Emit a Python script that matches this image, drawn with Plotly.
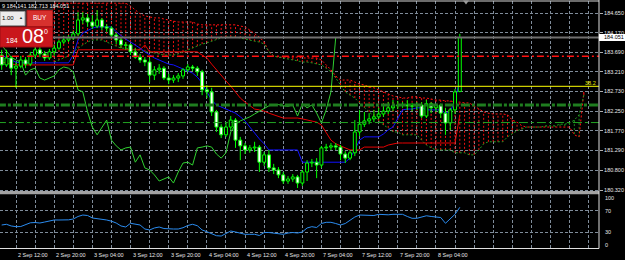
import plotly.graph_objects as go

# ---------------- data (H1 bars, index 0 = 2 Sep 12:00) ----------------
bars = list(range(-3, 94))
opens = [183.62, 183.38, 183.55, 183.30, 183.35, 183.50, 183.40, 183.62, 183.75, 183.65,
         183.55, 183.70, 183.79, 183.94, 183.99, 184.04, 184.14, 184.48, 184.53, 184.43,
         184.33, 184.48, 184.31, 184.28, 184.11, 183.99, 183.87, 183.87, 183.70, 183.57,
         183.50, 183.45, 183.13, 183.26, 183.30, 183.06, 183.01, 183.06, 183.11, 183.26,
         183.33, 183.30, 183.21, 182.77, 182.72, 182.23, 181.86, 181.67, 181.86, 182.03,
         181.54, 181.40, 181.30, 181.35, 181.37, 181.00, 181.18, 180.86, 180.81, 180.69,
         180.54, 180.59, 180.64, 180.49, 180.76, 180.98, 181.00, 180.93, 181.35, 181.37,
         181.40, 181.37, 181.20, 181.10, 181.23, 181.74, 181.93, 182.01, 182.06, 182.11,
         182.18, 182.25, 182.33, 182.38, 182.40, 182.40, 182.38, 182.38, 182.40, 182.13,
         182.43, 182.33, 182.40, 182.20, 181.96, 182.28, 182.729]
highs = [183.75, 183.75, 183.60, 183.45, 183.60, 183.57, 183.70, 183.84, 183.82, 183.72,
         183.77, 183.87, 183.99, 184.09, 184.11, 184.21, 184.67, 184.67, 184.63, 184.60,
         184.72, 184.53, 184.38, 184.33, 184.16, 184.04, 183.94, 183.89, 183.79, 183.65,
         183.57, 183.55, 183.35, 183.40, 183.35, 183.16, 183.13, 183.18, 183.30, 183.40,
         183.38, 183.35, 183.26, 182.89, 182.82, 182.28, 181.93, 181.98, 182.13, 182.08,
         181.62, 181.47, 181.42, 181.50, 181.42, 181.25, 181.30, 180.96, 180.88, 180.76,
         180.66, 180.71, 180.69, 180.81, 181.05, 181.08, 181.10, 181.40, 181.45, 181.47,
         181.47, 181.42, 181.27, 181.30, 182.03, 182.28, 182.23, 182.20, 182.28, 182.33,
         182.43, 182.47, 182.52, 182.50, 182.47, 182.52, 182.45, 182.47, 182.47, 182.52,
         182.47, 182.43, 182.43, 182.33, 182.33, 182.79, 184.141]
lows = [183.26, 183.33, 183.13, 182.82, 183.30, 183.30, 183.35, 183.55, 183.57, 183.48,
        183.50, 183.60, 183.75, 183.89, 183.94, 183.99, 184.09, 184.38, 184.31, 184.26,
        184.28, 184.23, 184.19, 184.06, 183.89, 183.79, 183.75, 183.62, 183.53, 183.43,
        183.35, 182.96, 183.01, 183.16, 183.01, 182.91, 182.94, 182.96, 183.04, 183.21,
        183.23, 183.11, 182.64, 182.57, 182.13, 181.74, 181.59, 181.62, 181.79, 181.35,
        181.05, 181.20, 181.23, 181.25, 180.76, 180.91, 180.76, 180.71, 180.61, 180.47,
        180.47, 180.52, 180.37, 180.42, 180.54, 180.88, 180.61, 180.86, 181.27, 181.30,
        181.30, 181.05, 180.98, 181.05, 181.15, 181.64, 181.86, 181.93, 181.98, 182.06,
        182.11, 182.18, 182.25, 182.30, 182.33, 182.28, 182.25, 182.28, 182.08, 182.08,
        182.20, 182.23, 182.08, 181.67, 181.79, 182.18, 182.713]
closes = [183.38, 183.55, 183.30, 183.35, 183.50, 183.40, 183.62, 183.75, 183.65, 183.55,
          183.70, 183.79, 183.94, 183.99, 184.04, 184.14, 184.48, 184.53, 184.43, 184.33,
          184.48, 184.31, 184.28, 184.11, 183.99, 183.87, 183.86, 183.70, 183.57, 183.50,
          183.45, 183.13, 183.26, 183.30, 183.06, 183.01, 183.06, 183.11, 183.26, 183.33,
          183.30, 183.21, 182.77, 182.72, 182.23, 181.86, 181.67, 181.86, 182.03, 181.54,
          181.40, 181.30, 181.35, 181.37, 181.00, 181.18, 180.86, 180.81, 180.69, 180.54,
          180.59, 180.64, 180.49, 180.76, 180.98, 181.00, 180.93, 181.35, 181.37, 181.40,
          181.37, 181.20, 181.10, 181.23, 181.74, 181.93, 182.01, 182.06, 182.11, 182.18,
          182.25, 182.33, 182.38, 182.40, 182.41, 182.38, 182.37, 182.40, 182.13, 182.43,
          182.33, 182.40, 182.20, 181.96, 182.28, 182.72, 184.051]
tenkan = [183.62, 183.55, 183.50, 183.45, 183.43, 183.43, 183.43, 183.43, 183.43, 183.43,
          183.43, 183.43, 183.43, 183.43, 183.43, 183.62, 183.99, 184.16, 184.23, 184.28,
          184.31, 184.31, 184.31, 184.31, 184.19, 184.09, 184.01, 183.94, 183.87, 183.79,
          183.70, 183.62, 183.55, 183.50, 183.45, 183.40, 183.38, 183.33, 183.28, 183.23,
          183.18, 183.08, 182.94, 182.72, 182.52, 182.40, 182.35, 182.30, 182.25, 182.20,
          182.11, 182.01, 181.86, 181.71, 181.57, 181.45, 181.30, 181.30, 181.30, 181.30,
          181.30, 181.30, 181.30, 181.00, 181.00, 181.00, 181.00, 181.00, 181.00, 181.00,
          181.00, 181.00, 181.00, 181.10, 181.30, 181.54, 181.62, 181.62, 181.62, 181.62,
          181.69, 181.79, 181.86, 182.08, 182.28, 182.30, 182.30, 182.33, 182.33, 182.28,
          182.28, 182.28, 182.28, 182.20, 182.23, 182.52, 183.01]
kijun = [183.45, 183.43, 183.40, 183.38, 183.38, 183.38, 183.38, 183.38, 183.38, 183.38,
         183.38, 183.38, 183.38, 183.38, 183.38, 183.38, 183.75, 183.75, 183.75, 183.75,
         183.75, 183.75, 183.75, 183.75, 183.75, 183.75, 183.75, 183.75, 183.75, 183.75,
         183.87, 183.70, 183.70, 183.70, 183.70, 183.70, 183.70, 183.70, 183.70, 183.70,
         183.70, 183.70, 183.62, 183.55, 183.40, 183.26, 183.11, 182.99, 182.86, 182.72,
         182.57, 182.47, 182.38, 182.30, 182.28, 182.25, 182.20, 182.16, 182.11, 182.08,
         182.08, 182.08, 182.08, 182.06, 182.03, 182.01, 181.98, 181.91, 181.71, 181.54,
         181.45, 181.40, 181.35, 181.30, 181.30, 181.30, 181.37, 181.37, 181.37, 181.37,
         181.37, 181.42, 181.45, 181.47, 181.47, 181.47, 181.47, 181.47, 181.47, 181.47,
         181.47, 181.47, 181.47, 181.47, 181.47, 181.47, 182.16]
span_bars = list(range(8, 120))
span_b = [184.89, 184.89, 184.89, 184.89, 184.89, 184.89, 184.89, 184.89, 184.89, 184.89,
          184.89, 184.89, 184.89, 184.89, 184.89, 184.89, 184.82, 184.72, 184.63, 184.58,
          184.55, 184.53, 184.53, 184.50, 184.48, 184.45, 184.43, 184.43, 184.43, 184.43,
          184.38, 184.36, 184.36, 184.36, 184.36, 184.36, 184.36, 184.36, 184.36, 184.33,
          184.31, 184.23, 184.14, 184.06, 183.94, 183.70, 183.60, 183.57, 183.57, 183.57,
          183.57, 183.57, 183.55, 183.55, 183.55, 183.55, 183.50, 183.38, 183.26, 183.11,
          183.01, 183.01, 183.01, 182.96, 182.91, 182.89, 182.84, 182.82, 182.77, 182.72,
          182.67, 182.62, 182.60, 182.57, 182.57, 182.60, 182.60, 182.57, 182.57, 182.55,
          182.52, 182.52, 182.50, 182.50, 182.47, 182.47, 182.45, 182.45, 182.38, 182.30,
          182.23, 182.20, 182.18, 182.18, 182.18, 182.16, 182.03, 181.98, 181.89, 181.86,
          181.86, 181.86, 181.86, 181.86, 181.86, 181.86, 181.86, 181.86, 181.86, 181.67,
          181.62, 182.72]
span_a = [183.45, 183.50, 183.55, 183.60, 183.70, 183.79, 183.87, 183.94, 183.99, 183.99,
          183.99, 183.94, 183.89, 183.84, 183.79, 183.79, 183.75, 183.75, 183.75, 183.70,
          183.70, 183.67, 183.65, 183.62, 183.62, 183.62, 183.65, 183.70, 183.75, 183.79,
          183.84, 183.89, 183.92, 183.96, 184.01, 184.04, 184.06, 184.06, 184.06, 184.04,
          184.01, 183.99, 183.96, 183.94, 183.89, 183.70, 183.60, 183.57, 183.55, 183.53,
          183.50, 183.48, 183.45, 183.45, 183.43, 183.40, 183.38, 183.30, 183.21, 183.06,
          182.89, 182.72, 182.64, 182.57, 182.45, 182.33, 182.23, 182.13, 182.01, 181.91,
          181.84, 181.74, 181.74, 181.67, 181.67, 181.67, 181.67, 181.54, 181.42, 181.35,
          181.30, 181.30, 181.30, 181.30, 181.23, 181.23, 181.23, 181.18, 181.18, 181.30,
          181.45, 181.50, 181.50, 181.50, 181.50, 181.62, 181.69, 181.77, 181.81, 181.86,
          181.86, 181.86, 181.86, 181.89, 181.89, 181.89, 181.93, 181.93, 181.96, 182.03,
          182.16, 182.64]
osc = [43.5, 44.8, 41.7, 40.4, 40.7, 44.4, 47.6, 48.1, 47.2, 49.0,
       50.9, 52.8, 52.8, 52.8, 53.1, 54.6, 59.3, 62.0, 61.1, 56.5,
       55.6, 54.6, 52.8, 50.6, 47.2, 41.7, 39.8, 46.7, 45.4, 43.5,
       36.1, 34.3, 38.0, 39.8, 37.0, 36.1, 36.1, 36.1, 38.5, 42.6,
       44.8, 42.2, 34.3, 31.1, 26.9, 23.7, 23.1, 28.1, 32.4, 30.6,
       27.8, 26.3, 26.3, 26.3, 24.1, 29.6, 29.6, 28.1, 26.9, 26.3,
       28.7, 29.6, 28.7, 30.6, 38.0, 40.4, 38.9, 46.3, 48.5, 48.5,
       46.3, 43.5, 46.3, 52.8, 58.3, 62.0, 62.0, 62.0, 61.1, 63.3,
       62.4, 62.4, 63.3, 63.3, 63.3, 59.3, 55.9, 55.9, 58.3, 60.6,
       59.3, 57.8, 57.4, 46.7, 55.9, 63.3, 76.3]
chikou_shift = 26

time_label_bars = [-8, 0, 8, 16, 24, 32, 40, 48, 56, 64, 72, 80, 88]
time_labels = ["2 Sep 04:00", "2 Sep 12:00", "2 Sep 20:00", "3 Sep 04:00", "3 Sep 12:00",
               "3 Sep 20:00", "4 Sep 04:00", "4 Sep 12:00", "4 Sep 20:00", "7 Sep 04:00",
               "7 Sep 12:00", "7 Sep 20:00", "8 Sep 04:00"]
price_ticks = [184.650, 184.170, 183.690, 183.210, 182.730, 182.250, 181.770, 181.290, 180.800, 180.320]
price_tick_text = ["184.650", "184.170", "183.690", "183.210", "182.730", "182.250",
                   "181.770", "181.290", "180.800", "180.320"]
osc_levels = [100, 70, 30, 0]
osc_grid = [70, 30]

fib_level, fib_label = 182.857, "38.2"
red_level = 183.59
green_level_thick = 182.40
green_level_thin = 181.97
bid = 184.051
bid_text = "184.051"
ohlc_text = "9 184.141 182.713 184.051"
lot_text = "1.00"
price_big, price_small, price_sup = "08", "184", "0"

# ---------------- geometry helpers ----------------
PW, H = 599.0, 260.0
FONT = "Liberation Sans, Arial, sans-serif"
def px(x):
    return x / PW
def py(y):
    return 1 - y / H

x_range = [-3.353, 122.17]
main_range = [180.2713, 184.9435]
grid_ticks = list(range(-4, 121, 4))
grid_color = "#7f8c9a"
grid_dash = "3px,2px"

fig = go.Figure()

# ---------------- Ichimoku cloud ----------------
rx, ry, gx, gy = [], [], [], []
for b, a, s in zip(span_bars, span_a, span_b):
    if s >= a:
        rx += [b, b, None]; ry += [a, s, None]
    else:
        gx += [b, b, None]; gy += [a, s, None]
fig.add_trace(go.Scatter(x=rx, y=ry, mode="lines", hoverinfo="skip",
                         line=dict(color="#f01010", width=1, dash="2px,2px")))
fig.add_trace(go.Scatter(x=gx, y=gy, mode="lines", hoverinfo="skip",
                         line=dict(color="#1c8a1c", width=1, dash="2px,2px")))
fig.add_trace(go.Scatter(x=span_bars, y=span_b, mode="lines", hoverinfo="skip",
                         line=dict(color="#ff1010", width=1, dash="2px,2px")))
fig.add_trace(go.Scatter(x=span_bars, y=span_a, mode="lines", hoverinfo="skip",
                         line=dict(color="#1f9c1f", width=1, dash="2px,2px")))
fig.add_trace(go.Scatter(x=bars, y=kijun, mode="lines", hoverinfo="skip",
                         line=dict(color="#e80000", width=1)))
fig.add_trace(go.Scatter(x=bars, y=tenkan, mode="lines", hoverinfo="skip",
                         line=dict(color="#1010ff", width=1)))
fig.add_trace(go.Scatter(x=[b - chikou_shift for b in bars], y=closes, mode="lines",
                         hoverinfo="skip", line=dict(color="#30d030", width=1)))

# ---------------- candles (overlay axis so they sit on top) ----------------
bull = [k for k in range(len(bars)) if closes[k] >= opens[k]]
bear = [k for k in range(len(bars)) if closes[k] < opens[k]]
fig.add_trace(go.Bar(x=[bars[k] for k in bull], base=[opens[k] for k in bull],
                     y=[max(closes[k] - opens[k], 0.006) for k in bull], width=0.62,
                     marker=dict(color="#000000", line=dict(color="#00ff00", width=1)),
                     yaxis="y3", hoverinfo="skip"))
fig.add_trace(go.Bar(x=[bars[k] for k in bear], base=[closes[k] for k in bear],
                     y=[max(opens[k] - closes[k], 0.006) for k in bear], width=0.62,
                     marker=dict(color="#ffffff", line=dict(color="#00ff00", width=1)),
                     yaxis="y3", hoverinfo="skip"))
wx, wy = [], []
for b, o, h, l, c in zip(bars, opens, highs, lows, closes):
    top, bot = max(o, c), min(o, c)
    wx += [b, b, None, b, b, None]
    wy += [h, top, None, bot, l, None]
fig.add_trace(go.Scatter(x=wx, y=wy, mode="lines", yaxis="y3", hoverinfo="skip",
                         line=dict(color="#00ff00", width=1)))

# ---------------- horizontal objects ----------------
xr = [-4, 123]
def hline(level, color, width, dash="solid"):
    fig.add_trace(go.Scatter(x=xr, y=[level, level], mode="lines", yaxis="y3",
                             hoverinfo="skip", line=dict(color=color, width=width, dash=dash)))
hline(bid, "#707070", 2)
hline(red_level, "#ff1010", 1.5, "7px,3px,2px,3px")
hline(green_level_thick, "#1f7d1f", 3, "9px,2px,3px,2px")
hline(green_level_thin, "#22a322", 1, "9px,3px,3px,3px")
hline(fib_level, "#ffff00", 1)

# ---------------- oscillator ----------------
fig.add_trace(go.Scatter(x=bars, y=osc, mode="lines", xaxis="x2", yaxis="y2",
                         hoverinfo="skip", line=dict(color="#2b8cf0", width=1)))

# ---------------- layout ----------------
fig.update_layout(
    width=625, height=260, margin=dict(l=0, r=26, t=0, b=0),
    paper_bgcolor="#000000", plot_bgcolor="#000000", showlegend=False, barmode="overlay",
    xaxis=dict(domain=[0, 1], range=x_range, tickvals=grid_ticks, showticklabels=False,
               ticks="", showgrid=True, gridcolor=grid_color, griddash=grid_dash, gridwidth=1,
               zeroline=False, showline=False, anchor="y", fixedrange=True),
    xaxis2=dict(domain=[0, 1], range=x_range, tickvals=grid_ticks, showticklabels=False,
                ticks="", showgrid=True, gridcolor=grid_color, griddash=grid_dash, gridwidth=1,
                zeroline=False, showline=False, anchor="y2", fixedrange=True),
    yaxis=dict(domain=[py(192), py(1)], range=main_range, side="right",
               tickvals=price_ticks, ticktext=price_tick_text,
               tickfont=dict(size=5.5, color="#e8e8e8", family=FONT),
               ticks="outside", ticklen=3, tickcolor="#b0b0b0",
               showgrid=True, gridcolor=grid_color, griddash=grid_dash, gridwidth=1,
               zeroline=False, showline=False, anchor="x", fixedrange=True),
    yaxis3=dict(overlaying="y", range=main_range, visible=False, anchor="x", fixedrange=True),
    yaxis2=dict(domain=[py(248.5), py(194.5)], range=[0, 100], side="right",
                tickvals=osc_grid, showticklabels=False, ticks="",
                showgrid=True, gridcolor=grid_color, griddash=grid_dash, gridwidth=1,
                zeroline=False, showline=False, anchor="x2", fixedrange=True),
)

shapes = []
# frame
shapes.append(dict(type="rect", xref="paper", yref="paper", x0=0, x1=1, y0=py(194.2), y1=py(191),
                   fillcolor="#a2a2a2", line=dict(width=0), layer="above"))
shapes.append(dict(type="line", xref="paper", yref="paper", x0=0, x1=1, y0=py(1), y1=py(1),
                   line=dict(color="#d8d8d8", width=1.2), layer="above"))
shapes.append(dict(type="line", xref="paper", yref="paper", x0=1, x1=1, y0=py(0), y1=py(248.5),
                   line=dict(color="#e0e0e0", width=1), layer="above"))
shapes.append(dict(type="line", xref="paper", yref="paper", x0=0, x1=1, y0=py(248.5), y1=py(248.5),
                   line=dict(color="#e0e0e0", width=1), layer="above"))
# bid price box on the axis
shapes.append(dict(type="rect", xref="paper", yref="paper", x0=1, x1=px(625), y0=py(41), y1=py(34),
                   fillcolor="#ffffff", line=dict(width=0), layer="above"))
# chart shift marker
shapes.append(dict(type="path", xref="paper", yref="paper",
                   path=f"M {px(463)},{py(0.5)} L {px(469)},{py(0.5)} L {px(466)},{py(4.5)} Z",
                   fillcolor="#9a9a9a", line=dict(width=0), layer="above"))
# one-click trading panel
shapes.append(dict(type="rect", xref="paper", yref="paper", x0=0, x1=px(53), y0=py(27), y1=py(8.5),
                   fillcolor="#2c2c2c", line=dict(width=0), layer="above"))
shapes.append(dict(type="rect", xref="paper", yref="paper", x0=0, x1=px(25), y0=py(25.5), y1=py(11.5),
                   fillcolor="#ececec", line=dict(color="#9a9a9a", width=1), layer="above"))
shapes.append(dict(type="rect", xref="paper", yref="paper", x0=px(27), x1=px(52.5), y0=py(26.5), y1=py(10.5),
                   fillcolor="#d7312e", line=dict(color="#b01818", width=1), layer="above"))
shapes.append(dict(type="rect", xref="paper", yref="paper", x0=0, x1=px(52.5), y0=py(47), y1=py(27),
                   fillcolor="#c9161c", line=dict(color="#9c0d12", width=1), layer="above"))
fig.update_layout(shapes=shapes)

ann = []
def text(x, y, s, size, color, xanchor="left", xref="paper"):
    ann.append(dict(x=x, y=y, xref=xref, yref="paper", text=s, showarrow=False,
                    xanchor=xanchor, yanchor="middle",
                    font=dict(size=size, color=color, family=FONT)))
for b, s in zip(time_label_bars, time_labels):
    text(b, py(254.5), s, 5.5, "#e8e8e8", "left", "x")
for lv, yy in zip(osc_levels, [198.3, 210.7, 232.3, 245.3]):
    text(px(603), py(yy), str(lv), 5.5, "#e8e8e8")
text(px(602), py(37.5), bid_text, 5.5, "#000000")
text(px(597.5), py(82.5), fib_label, 5.5, "#e6e600", "right")
text(px(0), py(5.5), ohlc_text, 5.5, "#f0f0f0", "left")
text(px(0), py(18.5), lot_text, 6, "#000000")
text(px(20.5), py(17.5), "▲", 4, "#222222", "center")
text(px(39.5), py(18), "BUY", 6.5, "#ffffff", "center")
text(px(12), py(40), price_small, 7, "#ffffff", "center")
text(px(32.5), py(36.5), price_big, 20, "#ffffff", "center")
text(px(46), py(31), price_sup, 7, "#ffffff", "center")
fig.update_layout(annotations=ann)

fig.write_html("out.html")
